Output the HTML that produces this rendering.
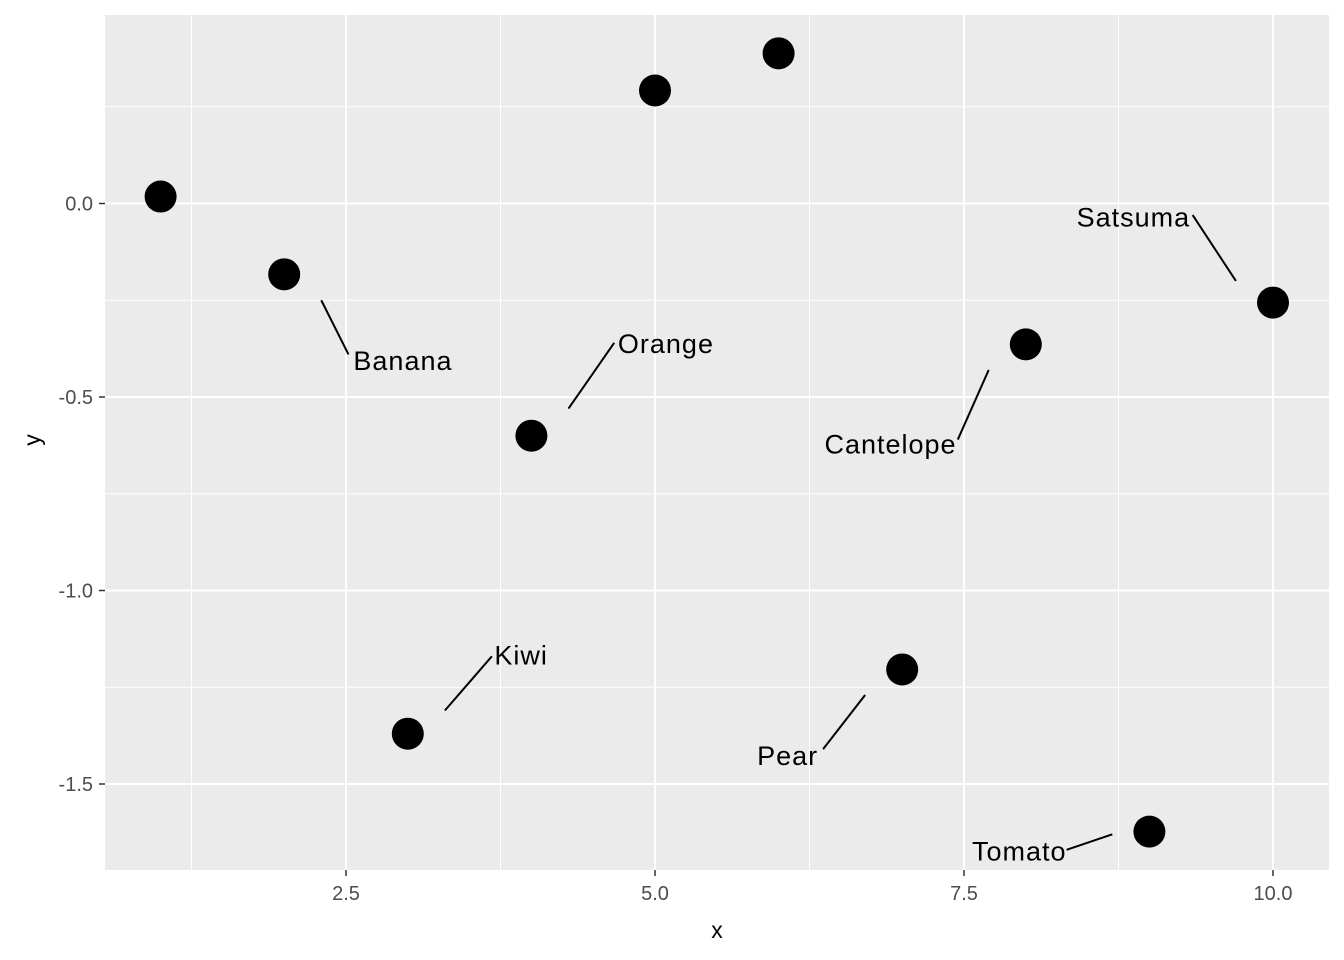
<!DOCTYPE html>
<html><head><meta charset="utf-8"><style>
body{margin:0;background:#fff}
svg{display:block;font-family:"Liberation Sans",sans-serif}
</style></head><body>
<svg id="chart" width="1344" height="960" viewBox="0 0 1344 960" xmlns="http://www.w3.org/2000/svg">
<rect x="105" y="15" width="1224" height="855" fill="#ebebeb"/>
<g id="grid"></g><g id="segs"></g><g id="pts"></g><g id="labels"></g><g id="axes"></g>
<text x="717" y="938" font-size="23" text-anchor="middle">x</text>
<text x="40" y="440" font-size="23" text-anchor="middle" transform="rotate(-90 40 440)">y</text>
</svg>
<script>
const xs=[1,2,3,4,5,6,7,8,9,10];
const ys=[0.018,-0.183,-1.37,-0.6,0.292,0.388,-1.204,-0.364,-1.623,-0.256];
const names=["","Banana","Kiwi","Orange","","","Pear","Cantelope","Tomato","Satsuma"];
// label positions (data units) and anchor side
const labX=[0,2.56,3.7,4.7,0,0,6.32,7.44,8.33,9.33];
const labY=[0,-0.405,-1.165,-0.36,0,0,-1.425,-0.62,-1.672,-0.033];
const labAnchor=["","start","start","start","","","end","end","end","end"];
const segStart=[[0,0],[2.3,-0.25],[3.3,-1.31],[4.3,-0.53],[0,0],[0,0],[6.7,-1.27],[7.7,-0.43],[8.7,-1.63],[9.7,-0.2]];
const segEnd=[[0,0],[2.52,-0.39],[3.68,-1.17],[4.67,-0.36],[0,0],[0,0],[6.36,-1.41],[7.45,-0.61],[8.33,-1.67],[9.35,-0.03]];
const xTicks=[2.5,5,7.5,10], xMinor=[1.25,3.75,6.25,8.75];
const yTicks=[0,-0.5,-1,-1.5], yMinor=[0.25,-0.25,-0.75,-1.25];
const xTickLabels=["2.5","5.0","7.5","10.0"], yTickLabels=["0.0","-0.5","-1.0","-1.5"];
const X=v=>346+(v-2.5)*123.6, Y=v=>203.5-v*387;
const ns="http://www.w3.org/2000/svg";
function mk(t,a,p){const e=document.createElementNS(ns,t);for(const k in a)e.setAttribute(k,a[k]);p.appendChild(e);return e;}
const g=document.getElementById('grid');
xMinor.forEach(v=>{const l=mk('line',{x1:X(v),x2:X(v),y1:15,y2:870,stroke:'#fff','stroke-width':1},g);

});
yMinor.forEach(v=>{const l=mk('line',{x1:105,x2:1329,y1:Y(v),y2:Y(v),stroke:'#fff','stroke-width':1},g);

});
const ax=document.getElementById('axes');
xTicks.forEach((v,i)=>{const l=mk('line',{x1:X(v),x2:X(v),y1:15,y2:870,stroke:'#fff','stroke-width':2},g);


const t=mk('line',{x1:X(v),x2:X(v),y1:870,y2:876,stroke:'#333','stroke-width':1.5},ax);


const tx=mk('text',{x:X(v),y:900,'font-size':20,fill:'#4d4d4d','text-anchor':'middle'},ax);tx.textContent=xTickLabels[i];

});
yTicks.forEach((v,i)=>{const l=mk('line',{x1:105,x2:1329,y1:Y(v),y2:Y(v),stroke:'#fff','stroke-width':2},g);


const t=mk('line',{x1:99,x2:105,y1:Y(v),y2:Y(v),stroke:'#333','stroke-width':1.5},ax);


const tx=mk('text',{x:93,y:Y(v)+7,'font-size':20,fill:'#4d4d4d','text-anchor':'end'},ax);tx.textContent=yTickLabels[i];

});
const pg=document.getElementById('pts'),sg=document.getElementById('segs'),lg=document.getElementById('labels');
xs.forEach((v,i)=>{const c=mk('circle',{cx:X(v),cy:Y(ys[i]),r:16,fill:'#000'},pg);


if(names[i]){const s=mk('line',{x1:X(segStart[i][0]),y1:Y(segStart[i][1]),x2:X(segEnd[i][0]),y2:Y(segEnd[i][1]),stroke:'#000','stroke-width':2},sg);


const t=mk('text',{x:X(labX[i]),y:Y(labY[i])+10,'font-size':27,'letter-spacing':1,fill:'#000','text-anchor':labAnchor[i]},lg);t.textContent=names[i];

}});
</script>
</body></html>
